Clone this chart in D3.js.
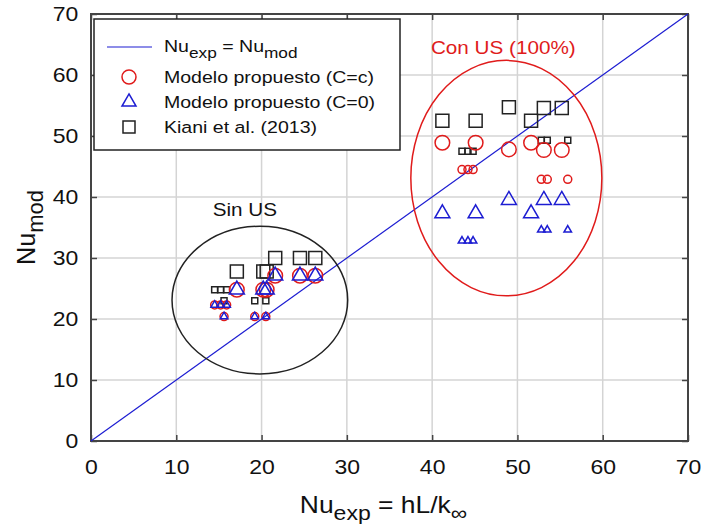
<!DOCTYPE html>
<meta charset="utf-8">
<style>
body { margin: 0; background: #fff; }
text { font-family: "Liberation Sans", Arial, sans-serif; fill: #111; }
.grid line { stroke: #d4d4d4; stroke-width: 1.5px; }
.mk { fill: none; stroke-width: 1.5px; }
</style>
<body>
<script src="https://cdn.jsdelivr.net/npm/d3@7"></script>
<script>

// tick labels
var ticks = [0, 10, 20, 30, 40, 50, 60, 70];

// large markers
var nuExpLarge  = [17.1, 20.2, 20.6, 21.6, 24.5, 26.3, 41.2, 45.1, 49.0, 51.6, 53.1, 55.2];
var kianiLarge  = [27.8, 27.8, 27.8, 30.0, 30.0, 30.0, 52.5, 52.5, 54.7, 52.5, 54.6, 54.6];
var modelCLarge = [24.8, 24.8, 24.8, 27.1, 27.1, 27.1, 48.9, 48.9, 47.8, 48.9, 47.7, 47.7];
var model0Large = [24.8, 24.8, 24.8, 27.1, 27.1, 27.1, 37.3, 37.3, 39.5, 37.3, 39.5, 39.5];

// small markers
var nuExpSmall  = [14.5, 15.2, 15.9, 15.6, 19.2, 20.5, 43.5, 44.2, 44.8, 52.8, 53.5, 55.9];
var kianiSmall  = [24.8, 24.8, 24.8, 23.0, 23.0, 23.0, 47.5, 47.5, 47.5, 49.3, 49.3, 49.3];
var modelCSmall = [22.3, 22.3, 22.3, 20.4, 20.4, 20.4, 44.5, 44.5, 44.5, 42.9, 42.9, 42.9];
var model0Small = [22.3, 22.3, 22.3, 20.4, 20.4, 20.4, 32.8, 32.8, 32.8, 34.6, 34.6, 34.6];

// cluster ellipses: [cx, cy, rx, ry] in data units
var sinUS = [19.8, 23.1, 10.3, 12.1];
var conUS = [48.7, 43.1, 11.2, 19.3];

var red = "#e01b1b", blue = "#1d1dd2", black = "#222";
var sx = 1.15; // text in the picture is a little wider than Arial

var margin = {top: 14, right: 14, bottom: 90, left: 91},
    width = 702 - margin.left - margin.right,
    height = 531 - margin.top - margin.bottom;

var x = d3.scaleLinear().domain([0, 70]).range([0, width]);
var y = d3.scaleLinear().domain([0, 70]).range([height, 0]);

var svg = d3.select("body").append("svg")
    .attr("width", 702)
    .attr("height", 531)
    .append("g")
    .attr("transform", "translate(" + margin.left + "," + margin.top + ")");

// text placed with a horizontal stretch
function label(parent, px, py, size, anchor) {
  return parent.append("g")
      .attr("transform", "translate(" + px + "," + py + ") scale(" + sx + ",1)")
      .append("text")
      .attr("font-size", size + "px")
      .attr("text-anchor", anchor || "start");
}

// grid
var grid = svg.append("g").attr("class", "grid");
grid.selectAll(".gx").data(ticks.slice(1, -1)).enter().append("line")
    .attr("x1", function(d) { return x(d); }).attr("x2", function(d) { return x(d); })
    .attr("y1", 0).attr("y2", height);
grid.selectAll(".gy").data(ticks.slice(1, -1)).enter().append("line")
    .attr("y1", function(d) { return y(d); }).attr("y2", function(d) { return y(d); })
    .attr("x1", 0).attr("x2", width);

// axes (ticks inside)
function styleAxis(g) {
  g.select(".domain").remove();
  g.selectAll(".tick line").attr("stroke", "#444").attr("stroke-width", 1.5);
  g.selectAll(".tick text").attr("font-size", "20px").attr("fill", "#111")
    .style("font-family", "Liberation Sans, Arial, sans-serif");
}
svg.append("g")
    .attr("transform", "translate(0," + height + ")")
    .call(d3.axisBottom(x).tickValues(ticks).tickSize(-6).tickPadding(19))
    .call(styleAxis)
    .selectAll(".tick text").attr("transform", "scale(" + sx + ",1)");
svg.append("g")
    .call(d3.axisLeft(y).tickValues(ticks).tickSize(-6).tickPadding(11))
    .call(styleAxis)
    .selectAll(".tick text").attr("transform", "scale(" + sx + ",1)");
svg.append("g")
    .attr("transform", "translate(" + width + ",0)")
    .call(d3.axisRight(y).tickValues(ticks).tickSize(-6).tickFormat(""))
    .call(styleAxis);
svg.append("g")
    .call(d3.axisTop(x).tickValues(ticks).tickSize(-6).tickFormat(""))
    .call(styleAxis);

// frame
svg.append("rect")
    .attr("width", width).attr("height", height)
    .attr("fill", "none").attr("stroke", "#444").attr("stroke-width", 2);

// 1:1 line
svg.append("line")
    .attr("x1", x(0)).attr("y1", y(0)).attr("x2", x(70)).attr("y2", y(70))
    .attr("stroke", blue).attr("stroke-width", 1.2);

// ellipses
function ell(e, col) {
  svg.append("ellipse")
      .attr("cx", x(e[0])).attr("cy", y(e[1]))
      .attr("rx", x(e[2]) - x(0)).attr("ry", y(0) - y(e[3]))
      .attr("fill", "none").attr("stroke", col).attr("stroke-width", 1.5);
}
ell(sinUS, black);
ell(conUS, red);

label(svg, x(sinUS[0]) - 15, y(sinUS[1] + sinUS[3]) - 10, 18, "middle").text("Sin US");
label(svg, x(conUS[0]) - 3, y(conUS[1] + conUS[3]) - 6, 18, "middle")
    .attr("fill", red).style("fill", red).text("Con US (100%)");

// marker shapes
function square(s) { return "M" + (-s/2) + "," + (-s/2) + "h" + s + "v" + s + "h" + (-s) + "Z"; }
function circle(r) { return "M" + (-r) + ",0a" + r + "," + r + " 0 1,0 " + (2*r) + ",0a" + r + "," + r + " 0 1,0 " + (-2*r) + ",0Z"; }
function triangle(s) {
  var h = s * Math.sqrt(3) / 2;
  return "M0," + (-2*h/3) + "L" + (s/2) + "," + (h/3) + "L" + (-s/2) + "," + (h/3) + "Z";
}

function plot(xs, ys, shape, col) {
  svg.append("g").selectAll("path").data(xs).enter().append("path")
      .attr("class", "mk")
      .attr("transform", function(d, i) { return "translate(" + x(d) + "," + y(ys[i]) + ")"; })
      .attr("d", shape)
      .attr("stroke", col);
}
plot(nuExpLarge, kianiLarge, square(13), black);
plot(nuExpSmall, kianiSmall, square(6), black);
plot(nuExpLarge, modelCLarge, circle(7.3), red);
plot(nuExpSmall, modelCSmall, circle(4), red);
plot(nuExpLarge, model0Large, triangle(15), blue);
plot(nuExpSmall, model0Small, triangle(7.5), blue);

// legend
var lg = svg.append("g").attr("transform", "translate(3,5)");
lg.append("rect").attr("width", 306).attr("height", 131)
    .attr("fill", "#fff").attr("stroke", "#222").attr("stroke-width", 1.5);
lg.append("line").attr("x1", 13).attr("x2", 58).attr("y1", 28).attr("y2", 28)
    .attr("stroke", blue).attr("stroke-width", 1.2);
var t0 = label(lg, 70, 33, 17);
t0.append("tspan").text("Nu");
t0.append("tspan").attr("font-size", "15px").attr("dy", 6).text("exp");
t0.append("tspan").attr("dy", -6).text(" = Nu");
t0.append("tspan").attr("font-size", "15px").attr("dy", 6).text("mod");

var legendItems = [
  {label: "Modelo propuesto (C=c)", shape: circle(7), col: red},
  {label: "Modelo propuesto (C=0)", shape: triangle(14), col: blue},
  {label: "Kiani et al. (2013)", shape: square(12), col: black}
];
legendItems.forEach(function(d, i) {
  var yy = 58 + i * 25;
  lg.append("path").attr("class", "mk").attr("d", d.shape).attr("stroke", d.col)
      .attr("transform", "translate(35," + yy + ")");
  label(lg, 70, yy + 6, 17).text(d.label);
});

// axis titles
var xt = label(svg, width / 2 - 6, height + 72, 23, "middle");
xt.append("tspan").text("Nu");
xt.append("tspan").attr("font-size", "20px").attr("dy", 7).text("exp");
xt.append("tspan").attr("dy", -7).text(" = hL/k");
xt.append("tspan").attr("font-size", "20px").attr("dy", 7).text("\u221e");

var yt = svg.append("g")
    .attr("transform", "translate(" + (-56) + "," + (height / 2) + ") rotate(-90) scale(1.1,1.12)")
    .append("text")
    .attr("text-anchor", "middle").attr("font-size", "23px");
yt.append("tspan").text("Nu");
yt.append("tspan").attr("font-size", "20px").attr("dy", 7).text("mod");

</script>
</body>
